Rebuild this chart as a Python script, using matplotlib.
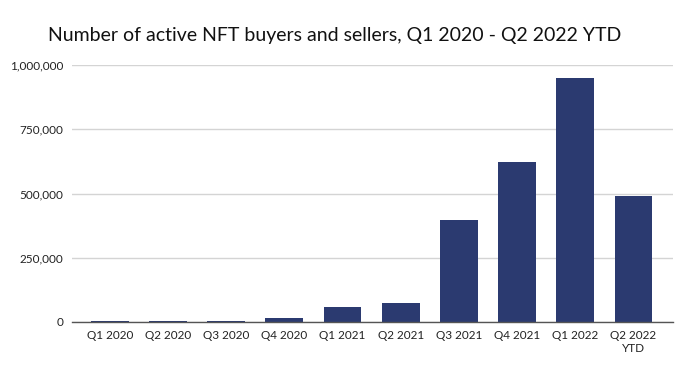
import matplotlib.pyplot as plt
import numpy as np

quarters = ["Q1 2020", "Q2 2020", "Q3 2020", "Q4 2020", "Q1 2021",
            "Q2 2021", "Q3 2021", "Q4 2021", "Q1 2022", "Q2 2022\nYTD"]
active_users = [4000, 4000, 4000, 15000, 58000,
                74000, 397000, 623000, 949000, 490000]
y_ticks = [0, 250000, 500000, 750000, 1000000]

plt.rcParams['font.family'] = ['Lato', 'DejaVu Sans']

fig = plt.figure(figsize=(6.76, 3.65), dpi=100)
ax = fig.add_axes([72 / 676, 1 - 322 / 365, (673 - 72) / 676, (322 - 65) / 365])

x = np.arange(len(quarters))
ax.bar(x, active_users, width=0.65, color="#2b3a70", zorder=3)

ax.set_xlim(-0.65, len(quarters) - 0.32)
ax.set_ylim(0, 1000000)
ax.set_yticks(y_ticks)
ax.set_yticklabels([f"{v:,}" for v in y_ticks])
ax.set_xticks(x)
ax.set_xticklabels(quarters)
ax.tick_params(axis="both", length=0, labelsize=8.5, colors="#222222")
ax.tick_params(axis="x", pad=6)
ax.tick_params(axis="y", pad=6)

ax.grid(axis="y", color="#d4d4d4", linewidth=1, zorder=0)
for side in ["top", "right", "left"]:
    ax.spines[side].set_visible(False)
ax.spines["bottom"].set_color("#555555")
ax.spines["bottom"].set_linewidth(1)
ax.spines["bottom"].set_zorder(4)

fig.text(48 / 676, 1 - 35 / 365, "Number of active NFT buyers and sellers, Q1 2020 - Q2 2022 YTD",
         fontsize=14, va="center", ha="left", color="#111111")

fig.savefig("out.png", dpi=100, facecolor="white")
